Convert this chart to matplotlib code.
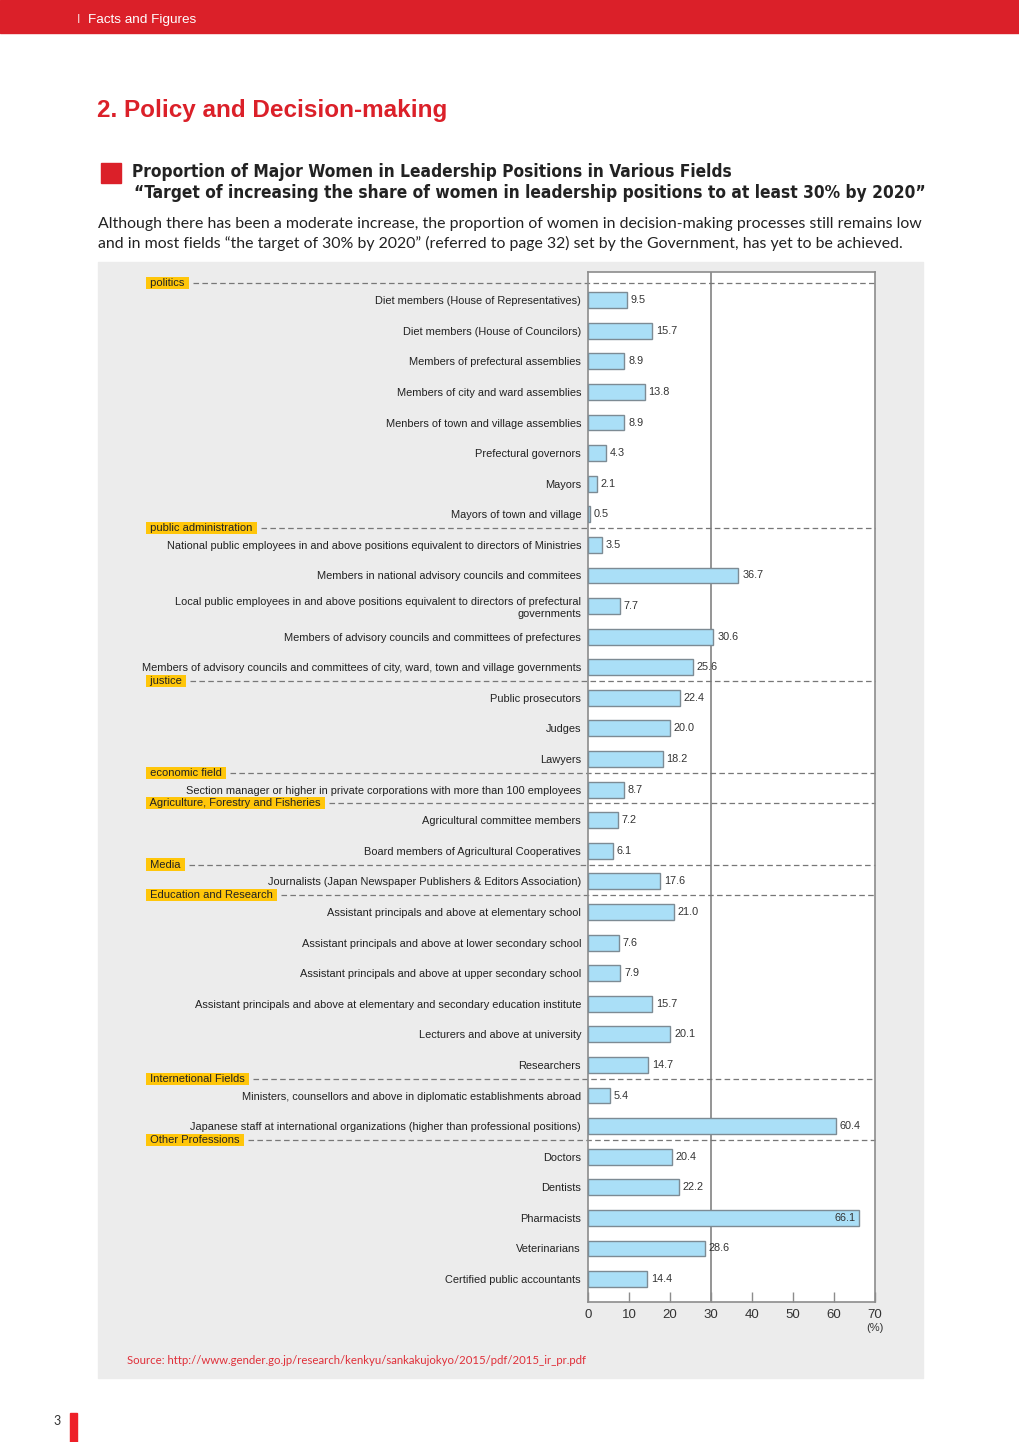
import numpy as np
import matplotlib
matplotlib.use('Agg')
import matplotlib.pyplot as plt
from matplotlib.patches import Rectangle

plt.rcParams['font.family'] = ['Liberation Sans', 'DejaVu Sans']
plt.rcParams['lines.scale_dashes'] = False

# row labels and values (%)
labels = [
    'Diet members (House of Representatives)',
    'Diet members (House of Councilors)',
    'Members of prefectural assemblies',
    'Members of city and ward assemblies',
    'Menbers of town and village assemblies',
    'Prefectural governors',
    'Mayors',
    'Mayors of town and village',
    'National public employees in and above positions equivalent to directors of Ministries',
    'Members in national advisory councils and commitees',
    'Local public employees in and above positions equivalent to directors of prefectural\ngovernments',
    'Members of advisory councils and committees of prefectures',
    'Members of advisory councils and committees of city, ward, town and village governments',
    'Public prosecutors',
    'Judges',
    'Lawyers',
    'Section manager or higher in private corporations with more than 100 employees',
    'Agricultural committee members',
    'Board members of Agricultural Cooperatives',
    'Journalists (Japan Newspaper Publishers & Editors Association)',
    'Assistant principals and above at elementary school',
    'Assistant principals and above at lower secondary school',
    'Assistant principals and above at upper secondary school',
    'Assistant principals and above at elementary and secondary education institute',
    'Lecturers and above at university',
    'Researchers',
    'Ministers, counsellors and above in diplomatic establishments abroad',
    'Japanese staff at international organizations (higher than professional positions)',
    'Doctors',
    'Dentists',
    'Pharmacists',
    'Veterinarians',
    'Certified public accountants',
]
values = [9.5, 15.7, 8.9, 13.8, 8.9, 4.3, 2.1, 0.5,
          3.5, 36.7, 7.7, 30.6, 25.6,
          22.4, 20.0, 18.2,
          8.7,
          7.2, 6.1,
          17.6,
          21.0, 7.6, 7.9, 15.7, 20.1, 14.7,
          5.4, 60.4,
          20.4, 22.2, 66.1, 28.6, 14.4]

# field groups: name and index of first row
groups = ['politics', 'public administration', 'justice', 'economic field',
          'Agriculture, Forestry and Fisheries', 'Media', 'Education and Research',
          'Internetional Fields', 'Other Professions']
group_start = [0, 8, 13, 16, 17, 19, 20, 26, 28]

xticks = [0, 10, 20, 30, 40, 50, 60, 70]

W, H = 1020, 1442
RED = '#db2029'
BG = '#ececec'


def fx(px):
    return px / W


def fy(py):
    return 1 - py / H


fig = plt.figure(figsize=(W / 100, H / 100), dpi=100)

# header bar
fig.patches.append(Rectangle((0, fy(33)), 1, 33 / H, transform=fig.transFigure,
                             color=RED, zorder=-2))
fig.text(fx(77), fy(20), 'I', color='white', fontsize=9, va='center', alpha=0.8)
fig.text(fx(88), fy(20.5), 'Facts and Figures', color='white', fontsize=9.7, va='center')

fig.text(fx(97), fy(110), '2. Policy and Decision-making', color=RED, fontsize=17.5,
         fontweight='bold', va='center')

# section heading
fig.patches.append(Rectangle((fx(101), fy(183)), 20 / W, 20 / H, transform=fig.transFigure,
                             color=RED, zorder=-2))
fig.text(fx(132), fy(172), 'Proportion of Major Women in Leadership Positions in Various Fields',
         fontsize=12.4, fontweight='bold', fontstretch='condensed', va='center', color='#222222',
         family='DejaVu Sans')
fig.text(fx(134), fy(193),
         '\u201cTarget of increasing the share of women in leadership positions to at least 30% by 2020\u201d',
         fontsize=12.4, fontweight='bold', fontstretch='condensed', va='center', color='#222222',
         family='DejaVu Sans')
fig.text(fx(98), fy(224),
         'Although there has been a moderate increase, the proportion of women in decision-making processes still remains low',
         fontsize=11.45, va='center', color='#222222', family=['Lato', 'DejaVu Sans'])
fig.text(fx(98), fy(243),
         'and in most fields \u201cthe target of 30% by 2020\u201d (referred to page 32) set by the Government, has yet to be achieved.',
         fontsize=11.45, va='center', color='#222222', family=['Lato', 'DejaVu Sans'])

# gray panel
fig.patches.append(Rectangle((fx(98), fy(1378)), (923 - 98) / W, (1378 - 262) / H,
                             transform=fig.transFigure, color=BG, zorder=-2))

fig.text(fx(127), fy(1361), 'Source: http://www.gender.go.jp/research/kenkyu/sankakujokyo/2015/pdf/2015_ir_pr.pdf',
         color='#e0303a', fontsize=8.2, va='center', family=['Lato', 'DejaVu Sans'])

# page footer
fig.text(fx(53), fy(1421), '3', fontsize=9, va='center', color='#333333',
         family=['Lato', 'DejaVu Sans'])
fig.patches.append(Rectangle((fx(70), 0), 7 / W, (1442 - 1413) / H, transform=fig.transFigure,
                             color='#ee2028', zorder=-2))

# chart
ax = fig.add_axes([fx(588), fy(1302), (875 - 588) / W, (1302 - 272) / H])
ax.set_facecolor('white')
y = np.arange(len(values))
ax.barh(y, values, height=0.52, color='#aadff7', edgecolor='#7d8b94', linewidth=1, zorder=3)
ax.axvline(30, color='#8c8c8c', lw=1.3, zorder=2)

for yi, v in zip(y, values):
    if v > 65:
        ax.text(v - 0.8, yi, f'{v:.1f}', ha='right', va='center', fontsize=7.8,
                color='#333333', zorder=4)
    else:
        ax.text(v + 0.9, yi, f'{v:.1f}', ha='left', va='center', fontsize=7.8,
                color='#333333', zorder=4)

ax.set_xlim(0, 70)
ax.set_ylim(32.75, -0.92)
ax.set_yticks(y, labels, fontsize=7.9, color='#222222')
ax.tick_params(axis='y', length=0, pad=5)
ax.set_xticks(xticks)
ax.tick_params(axis='x', direction='in', length=7.5, width=1, color='#8c8c8c',
               labelsize=9.5, labelcolor='#333333', pad=5)
for sp in ax.spines.values():
    sp.set_color('#8c8c8c')
    sp.set_linewidth(1.2)
ax.annotate('(%)', xy=(70, 32.75), xytext=(0, -15), textcoords='offset points',
            ha='center', va='top', fontsize=8, color='#333333')

# group labels in yellow boxes, dashed line from box to right spine
group_texts = []
for name, s in zip(groups, group_start):
    gy = s - 0.55
    t = ax.text(-107.5, gy, ' ' + name + ' ', ha='left', va='center', fontsize=8, color='#222222',
                clip_on=False, zorder=6,
                bbox=dict(boxstyle='square,pad=0.1', facecolor='#ffc60a', edgecolor='none'))
    group_texts.append((t, gy))

fig.canvas.draw()
inv = ax.transData.inverted()
for t, gy in group_texts:
    bb = t.get_bbox_patch().get_window_extent()
    x0 = inv.transform((bb.x1 + 4, 0))[0]
    ax.plot([x0, 70], [gy, gy], color='#777777', lw=0.9, dashes=(4.0, 2.4),
            clip_on=False, zorder=2)

fig.savefig('out.png', dpi=100)
